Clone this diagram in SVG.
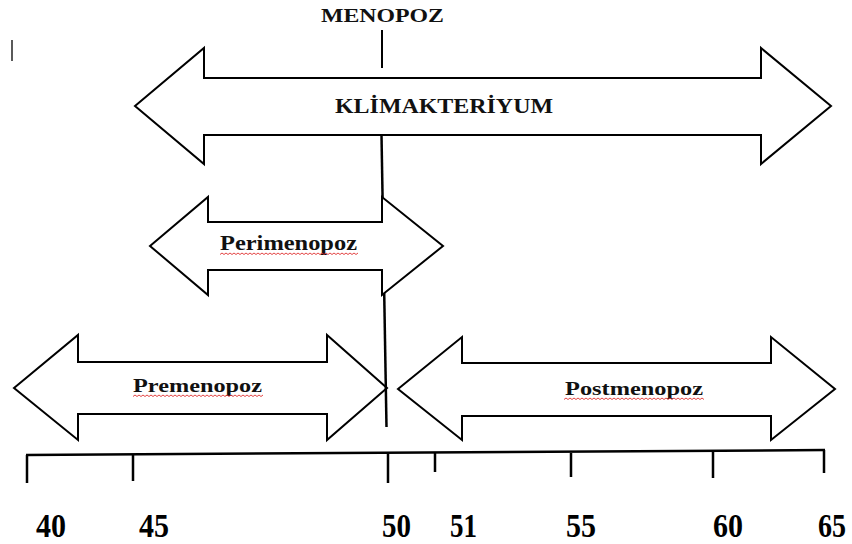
<svg xmlns="http://www.w3.org/2000/svg" width="852" height="544" viewBox="0 0 852 544">
<style>
.arrow{fill:#fff;stroke:#000;stroke-width:2;stroke-linejoin:miter}
.lbl{font-family:"Liberation Serif","Times New Roman",serif;font-weight:bold;fill:#111}
.tick{stroke:#000;stroke-width:2.5;fill:none}
.squig{fill:none;stroke:#e03030;stroke-width:0.9}
.num{font-family:"Liberation Serif","Times New Roman",serif;font-weight:bold;font-size:33px;fill:#000}
</style>
<defs>
<clipPath id="cPre"><rect x="133" y="390" width="130" height="10"/></clipPath>
<clipPath id="cPost"><rect x="564" y="393" width="140" height="10"/></clipPath>
<clipPath id="cPeri"><rect x="220" y="248" width="138" height="10"/></clipPath>
</defs>
<rect width="852" height="544" fill="#fff"/>
<line x1="12" y1="40" x2="12" y2="61" stroke="#000" stroke-width="1.3"/>

<g id="klimakteriyum">
<polygon class="arrow" points="135,106 204,48 204,78 761,78 761,48 831,106 761,164 761,135 204,135 204,164"/>
<text class="lbl" x="335" y="113" font-size="21" textLength="218" lengthAdjust="spacingAndGlyphs">KLİMAKTERİYUM</text>
</g>

<g id="premenopoz">
<polygon class="arrow" points="14,388 78,335 78,362 327,362 327,335 387,388 327,440 327,414 78,414 78,440"/>
<text class="lbl" x="133" y="392" font-size="19" textLength="129" lengthAdjust="spacingAndGlyphs">Premenopoz</text>
<path class="squig" clip-path="url(#cPre)" d="M133 396.5 l2-1.5l2 1.5l2-1.5l2 1.5l2-1.5l2 1.5l2-1.5l2 1.5l2-1.5l2 1.5l2-1.5l2 1.5l2-1.5l2 1.5l2-1.5l2 1.5l2-1.5l2 1.5l2-1.5l2 1.5l2-1.5l2 1.5l2-1.5l2 1.5l2-1.5l2 1.5l2-1.5l2 1.5l2-1.5l2 1.5l2-1.5l2 1.5l2-1.5l2 1.5l2-1.5l2 1.5l2-1.5l2 1.5l2-1.5l2 1.5l2-1.5l2 1.5l2-1.5l2 1.5l2-1.5l2 1.5l2-1.5l2 1.5l2-1.5l2 1.5l2-1.5l2 1.5l2-1.5l2 1.5l2-1.5l2 1.5l2-1.5l2 1.5l2-1.5l2 1.5l2-1.5l2 1.5l2-1.5l2 1.5l2-1.5l2 1.5l2-1.5l2 1.5l2-1.5l2 1.5l2-1.5l2 1.5l2-1.5l2 1.5l2-1.5l2 1.5l2-1.5l2 1.5l2-1.5l2 1.5"/>
</g>

<g id="postmenopoz">
<polygon class="arrow" points="398,389 462,337 462,363 771,363 771,337 835,389 771,440 771,416 462,416 462,440"/>
<text class="lbl" x="565" y="395" font-size="19" textLength="138" lengthAdjust="spacingAndGlyphs">Postmenopoz</text>
<path class="squig" clip-path="url(#cPost)" d="M564 399.5 l2-1.5l2 1.5l2-1.5l2 1.5l2-1.5l2 1.5l2-1.5l2 1.5l2-1.5l2 1.5l2-1.5l2 1.5l2-1.5l2 1.5l2-1.5l2 1.5l2-1.5l2 1.5l2-1.5l2 1.5l2-1.5l2 1.5l2-1.5l2 1.5l2-1.5l2 1.5l2-1.5l2 1.5l2-1.5l2 1.5l2-1.5l2 1.5l2-1.5l2 1.5l2-1.5l2 1.5l2-1.5l2 1.5l2-1.5l2 1.5l2-1.5l2 1.5l2-1.5l2 1.5l2-1.5l2 1.5l2-1.5l2 1.5l2-1.5l2 1.5l2-1.5l2 1.5l2-1.5l2 1.5l2-1.5l2 1.5l2-1.5l2 1.5l2-1.5l2 1.5l2-1.5l2 1.5l2-1.5l2 1.5l2-1.5l2 1.5l2-1.5l2 1.5l2-1.5l2 1.5l2-1.5l2 1.5l2-1.5l2 1.5l2-1.5l2 1.5l2-1.5l2 1.5l2-1.5l2 1.5l2-1.5l2 1.5"/>
</g>

<g id="connectors">
<line x1="381.5" y1="135" x2="386.5" y2="427" stroke="#000" stroke-width="2.5"/>
<line x1="382" y1="30" x2="382" y2="68" stroke="#000" stroke-width="2"/>
</g>

<g id="perimenopoz">
<polygon class="arrow" points="150,246 208,197 208,222 382,222 382,197 443,246 382,295 382,270 208,270 208,295"/>
<text class="lbl" x="220" y="250" font-size="21" textLength="137" lengthAdjust="spacingAndGlyphs">Perimenopoz</text>
<path class="squig" clip-path="url(#cPeri)" d="M220 254.5 l2-1.5l2 1.5l2-1.5l2 1.5l2-1.5l2 1.5l2-1.5l2 1.5l2-1.5l2 1.5l2-1.5l2 1.5l2-1.5l2 1.5l2-1.5l2 1.5l2-1.5l2 1.5l2-1.5l2 1.5l2-1.5l2 1.5l2-1.5l2 1.5l2-1.5l2 1.5l2-1.5l2 1.5l2-1.5l2 1.5l2-1.5l2 1.5l2-1.5l2 1.5l2-1.5l2 1.5l2-1.5l2 1.5l2-1.5l2 1.5l2-1.5l2 1.5l2-1.5l2 1.5l2-1.5l2 1.5l2-1.5l2 1.5l2-1.5l2 1.5l2-1.5l2 1.5l2-1.5l2 1.5l2-1.5l2 1.5l2-1.5l2 1.5l2-1.5l2 1.5l2-1.5l2 1.5l2-1.5l2 1.5l2-1.5l2 1.5l2-1.5l2 1.5l2-1.5l2 1.5l2-1.5l2 1.5l2-1.5l2 1.5l2-1.5l2 1.5l2-1.5l2 1.5l2-1.5l2 1.5"/>
</g>

<g id="menopoz">
<text class="lbl" x="321" y="22" font-size="18" textLength="123" lengthAdjust="spacingAndGlyphs">MENOPOZ</text>
</g>

<g id="axis">
<path class="tick" d="M26 455 L825 450"/>
<path class="tick" d="M27 455 V483 M133 455 V481 M388 453 V483 M435 453 V472 M571 453 V477 M713 451 V478 M824 450 V473"/>
<text class="num" x="36" y="537" textLength="30" lengthAdjust="spacingAndGlyphs">40</text>
<text class="num" x="139" y="537" textLength="30" lengthAdjust="spacingAndGlyphs">45</text>
<text class="num" x="382" y="537" textLength="29" lengthAdjust="spacingAndGlyphs">50</text>
<text class="num" x="450" y="537" textLength="27" lengthAdjust="spacingAndGlyphs">51</text>
<text class="num" x="566" y="537" textLength="30" lengthAdjust="spacingAndGlyphs">55</text>
<text class="num" x="713" y="537" textLength="30" lengthAdjust="spacingAndGlyphs">60</text>
<text class="num" x="818" y="537" textLength="28" lengthAdjust="spacingAndGlyphs">65</text>
</g>
</svg>
